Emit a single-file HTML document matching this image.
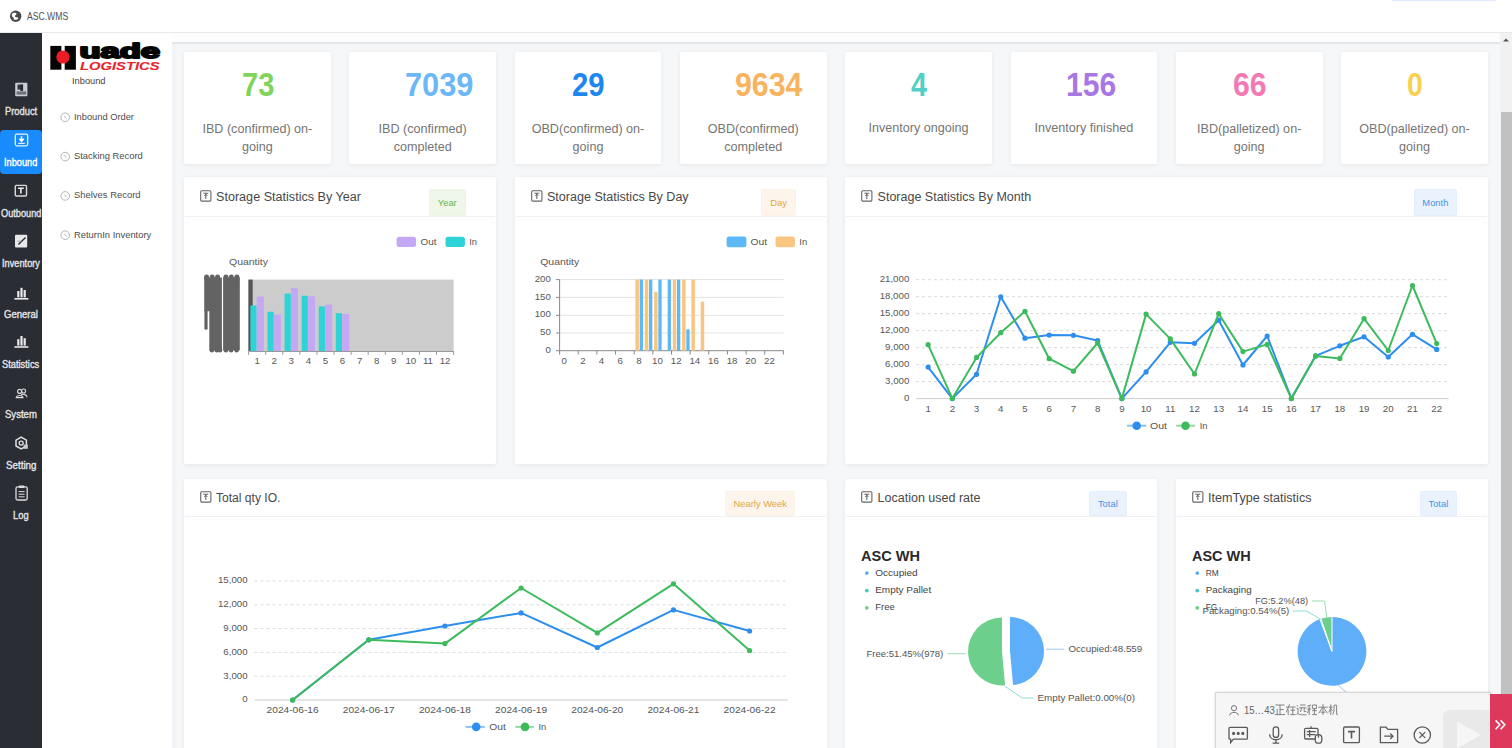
<!DOCTYPE html>
<html><head><meta charset="utf-8"><title>ASC.WMS</title>
<style>
*{box-sizing:border-box;margin:0;padding:0}
html,body{width:1512px;height:748px;overflow:hidden;background:#fff;font-family:"Liberation Sans",sans-serif}
.t{position:absolute;white-space:nowrap;line-height:1;transform-origin:0 50%}
.b{position:absolute}
svg{position:absolute;left:0;top:0;overflow:visible}
svg text{font-family:"Liberation Sans",sans-serif}
.card{position:absolute;background:#fff;border-radius:2px;box-shadow:0 1px 5px rgba(0,0,0,0.07)}
.tag{position:absolute;border:1px solid;border-radius:1.5px}
</style></head><body>

<div class="b" style="left:0;top:0;width:1512px;height:33px;background:#fff;border-bottom:1px solid #e9e9e9"></div>
<div class="b" style="left:1392px;top:0;width:104px;height:1px;background:#e2e8fb"></div>
<svg width="30" height="33" viewBox="0 0 30 33" style="left:0;top:0">
<circle cx="15.7" cy="16.3" r="5.7" fill="#4a4a4a"/>
<path d="M12.2 13.6 C13.6 12.2 16.2 12.4 16.6 13.8 C16.9 15 14.6 15.2 14.9 16.5 C15.2 17.6 17.6 17.1 18.6 17.9 C17.6 19.6 15.3 20.4 13.6 19.4 C14.6 18.3 13.6 17.3 12.4 16.9 C11.8 16.1 11.7 14.5 12.2 13.6Z" fill="#fff"/>
</svg>
<span class="t" style="left:26.80px;top:10.80px;font-size:10.6px;color:#505050;transform:scaleX(0.8131);">ASC.WMS</span>
<div class="b" style="left:0.00px;top:33.00px;width:42.40px;height:715.00px;background:#2b2d35;"></div>
<div class="b" style="left:0;top:130px;width:41.7px;height:43.7px;background:#188bff;border-radius:4px"></div>
<span class="t" style="left:4.90px;top:107.10px;font-size:10.4px;color:#e4e5e8;transform:scaleX(0.8987);-webkit-text-stroke:0.35px currentColor;">Product</span>
<span class="t" style="left:4.35px;top:158.10px;font-size:10.4px;color:#ffffff;transform:scaleX(0.8857);-webkit-text-stroke:0.35px currentColor;">Inbound</span>
<span class="t" style="left:0.80px;top:208.50px;font-size:10.4px;color:#e4e5e8;transform:scaleX(0.8839);-webkit-text-stroke:0.35px currentColor;">Outbound</span>
<span class="t" style="left:2.00px;top:259.30px;font-size:10.4px;color:#e4e5e8;transform:scaleX(0.8879);-webkit-text-stroke:0.35px currentColor;">Inventory</span>
<span class="t" style="left:4.00px;top:309.90px;font-size:10.4px;color:#e4e5e8;transform:scaleX(0.9183);-webkit-text-stroke:0.35px currentColor;">General</span>
<span class="t" style="left:2.40px;top:360.00px;font-size:10.4px;color:#e4e5e8;transform:scaleX(0.8942);-webkit-text-stroke:0.35px currentColor;">Statistics</span>
<span class="t" style="left:5.05px;top:410.00px;font-size:10.4px;color:#e4e5e8;transform:scaleX(0.9197);-webkit-text-stroke:0.35px currentColor;">System</span>
<span class="t" style="left:5.75px;top:460.50px;font-size:10.4px;color:#e4e5e8;transform:scaleX(0.9415);-webkit-text-stroke:0.35px currentColor;">Setting</span>
<span class="t" style="left:13.20px;top:510.90px;font-size:10.4px;color:#e4e5e8;transform:scaleX(0.8982);-webkit-text-stroke:0.35px currentColor;">Log</span>
<svg width="42" height="748" viewBox="0 0 42 748" style="left:0;top:0"><rect x="15.2" y="82.8" width="12.2" height="13.4" rx="1" fill="#c9ced3"/><rect x="17.5" y="84.6" width="3.2" height="5" fill="#2f3540"/><rect x="20.3" y="84.4" width="2.8" height="6.4" fill="#1f2530"/><rect x="16.6" y="91.4" width="9.6" height="3.2" fill="#6d7278"/><rect x="15.3" y="134.2" width="12.4" height="11.6" rx="1.5" fill="none" stroke="#e9f3ff" stroke-width="1.3"/><path d="M21.5 136.2 L21.5 140.6 M19.4 138.8 L21.5 141.2 L23.6 138.8" stroke="#fff" stroke-width="1.6" fill="none"/><rect x="18.2" y="142.8" width="6.6" height="1.2" fill="#e9f3ff"/><rect x="15.3" y="185.4" width="11.2" height="10.6" rx="1" fill="none" stroke="#d9d9dd" stroke-width="1.4"/><path d="M18 188.3 L23.8 188.3 M20.9 188.3 L20.9 193.6" stroke="#eee" stroke-width="1.6" fill="none"/><rect x="15" y="234.8" width="12.2" height="12.8" rx="1" fill="#e8e8ea"/><path d="M18.4 244.5 L25.5 237.5" stroke="#2c2c37" stroke-width="1.4"/><path d="M17.4 241.2 L21.6 241.2" stroke="#9a9aa0" stroke-width="0.9"/><rect x="17.2" y="291.0" width="2.2" height="6.4" fill="#e8e8ea"/><rect x="20.4" y="287.8" width="2.2" height="9.6" fill="#e8e8ea"/><rect x="23.6" y="290.0" width="2.2" height="7.4" fill="#e8e8ea"/><rect x="14.4" y="298.0" width="14" height="1.6" fill="#e8e8ea"/><rect x="17.2" y="339.2" width="2.2" height="6.4" fill="#e8e8ea"/><rect x="20.4" y="336.0" width="2.2" height="9.6" fill="#e8e8ea"/><rect x="23.6" y="338.2" width="2.2" height="7.4" fill="#e8e8ea"/><rect x="14.4" y="346.2" width="14" height="1.6" fill="#e8e8ea"/><circle cx="19.6" cy="391.4" r="2" fill="none" stroke="#dcdce0" stroke-width="1.1"/><circle cx="23.6" cy="391.0" r="2" fill="none" stroke="#dcdce0" stroke-width="1.1"/><path d="M16.2 397.6 C16.6 394.8 22.6 394.8 23 397.6 Z M21 394.6 C23.6 393.8 27 394.6 27 397.2" fill="none" stroke="#dcdce0" stroke-width="1.1"/><path d="M21.2 437.2 L26.4 440.2 L26.4 446.0 L21.2 449.0 L16 446.0 L16 440.2 Z" fill="none" stroke="#e0e0e4" stroke-width="1.5"/><circle cx="21.2" cy="443.1" r="2" fill="none" stroke="#e0e0e4" stroke-width="1.3"/><rect x="23.6" y="444.6" width="4.2" height="4.2" fill="#c9c9cf"/><rect x="16" y="486.8" width="11.2" height="13.2" rx="1.5" fill="none" stroke="#dcdce0" stroke-width="1.3"/><rect x="18.8" y="485.6" width="5.6" height="2.4" rx="0.6" fill="#dcdce0"/><path d="M18.6 491.6 H24.6 M18.6 494.2 H24.6 M18.6 496.8 H24.6" stroke="#dcdce0" stroke-width="1"/></svg>
<div class="b" style="left:42.00px;top:33.00px;width:130.00px;height:715.00px;background:#ffffff;"></div>
<svg width="172" height="80" viewBox="0 0 172 80" style="left:0;top:0"><rect x="50.3" y="45.9" width="11.1" height="23.8" fill="#050505"/><rect x="64.7" y="45.9" width="11.2" height="23.8" fill="#050505"/><circle cx="62.9" cy="57" r="6.6" fill="#ec1c24"/><text x="79.4" y="57.9" font-size="20" font-weight="bold" fill="#050505" textLength="80.6" lengthAdjust="spacingAndGlyphs" stroke="#050505" stroke-width="1.9" stroke-linejoin="round" font-family="Liberation Sans">uade</text><text x="80.0" y="69.6" font-size="11.6" font-weight="bold" font-style="italic" fill="#e5262d" stroke="#e5262d" stroke-width="0.1" textLength="79.6" lengthAdjust="spacingAndGlyphs" font-family="Liberation Sans">LOGISTICS</text></svg>
<span class="t" style="left:72.20px;top:75.50px;font-size:9.4px;color:#444;transform:scaleX(0.9888);">Inbound</span>
<svg width="172" height="260" viewBox="0 0 172 260" style="left:0;top:0"><circle cx="65.2" cy="117.3" r="4.3" fill="none" stroke="#b4b4b4" stroke-width="1"/><path d="M64 115.8 L66.4 118.6" stroke="#b4b4b4" stroke-width="0.9"/><circle cx="65.2" cy="156.60000000000002" r="4.3" fill="none" stroke="#b4b4b4" stroke-width="1"/><path d="M64 155.10000000000002 L66.4 157.9" stroke="#b4b4b4" stroke-width="0.9"/><circle cx="65.2" cy="195.9" r="4.3" fill="none" stroke="#b4b4b4" stroke-width="1"/><path d="M64 194.4 L66.4 197.2" stroke="#b4b4b4" stroke-width="0.9"/><circle cx="65.2" cy="235.20000000000002" r="4.3" fill="none" stroke="#b4b4b4" stroke-width="1"/><path d="M64 233.70000000000002 L66.4 236.5" stroke="#b4b4b4" stroke-width="0.9"/></svg>
<span class="t" style="left:74.40px;top:111.60px;font-size:9.6px;color:#4d4d4d;transform:scaleX(0.9690);">Inbound Order</span>
<span class="t" style="left:74.40px;top:150.90px;font-size:9.6px;color:#4d4d4d;transform:scaleX(0.9771);">Stacking Record</span>
<span class="t" style="left:74.40px;top:190.20px;font-size:9.6px;color:#4d4d4d;transform:scaleX(0.9826);">Shelves Record</span>
<span class="t" style="left:74.40px;top:229.50px;font-size:9.6px;color:#4d4d4d;transform:scaleX(0.9790);">ReturnIn Inventory</span>
<div class="b" style="left:172.00px;top:33.00px;width:1328.00px;height:715.00px;background:#f6f7f9;"></div>
<div class="b" style="left:172.00px;top:33.00px;width:1328.00px;height:8.50px;background:#fdfdfd;"></div>
<div class="b" style="left:172.00px;top:41.50px;width:1328.00px;height:2.50px;background:#e4e6e9;"></div>
<div class="b" style="left:172.00px;top:44.00px;width:4.00px;height:704.00px;background:#f3f4f7;"></div>
<div class="card" style="left:184.00px;top:52.2px;width:146.8px;height:111.5px"></div>
<span class="t" style="left:241.50px;top:67.50px;font-size:33px;color:#7fd55b;font-weight:bold;transform:scaleX(0.8818);">73</span>
<span class="t" style="left:202.43px;top:122.60px;font-size:12.6px;color:#757575;">IBD (confirmed) on-</span>
<span class="t" style="left:242.00px;top:141.30px;font-size:12.6px;color:#757575;">going</span>
<div class="card" style="left:349.30px;top:52.2px;width:146.8px;height:111.5px"></div>
<span class="t" style="left:404.70px;top:67.50px;font-size:33px;color:#6cb7f6;font-weight:bold;transform:scaleX(0.9329);">7039</span>
<span class="t" style="left:378.60px;top:122.60px;font-size:12.6px;color:#757575;">IBD (confirmed)</span>
<span class="t" style="left:393.63px;top:141.30px;font-size:12.6px;color:#757575;">completed</span>
<div class="card" style="left:514.60px;top:52.2px;width:146.8px;height:111.5px"></div>
<span class="t" style="left:572.00px;top:67.50px;font-size:33px;color:#1e86ef;font-weight:bold;transform:scaleX(0.8873);">29</span>
<span class="t" style="left:531.65px;top:122.60px;font-size:12.6px;color:#757575;">OBD(confirmed) on-</span>
<span class="t" style="left:572.60px;top:141.30px;font-size:12.6px;color:#757575;">going</span>
<div class="card" style="left:679.90px;top:52.2px;width:146.8px;height:111.5px"></div>
<span class="t" style="left:735.30px;top:67.50px;font-size:33px;color:#f8b35e;font-weight:bold;transform:scaleX(0.9193);">9634</span>
<span class="t" style="left:707.78px;top:122.60px;font-size:12.6px;color:#757575;">OBD(confirmed)</span>
<span class="t" style="left:724.23px;top:141.30px;font-size:12.6px;color:#757575;">completed</span>
<div class="card" style="left:845.20px;top:52.2px;width:146.8px;height:111.5px"></div>
<span class="t" style="left:911.20px;top:67.50px;font-size:33px;color:#50d0c6;font-weight:bold;transform:scaleX(0.8681);">4</span>
<span class="t" style="left:868.51px;top:121.70px;font-size:12.6px;color:#757575;">Inventory ongoing</span>
<div class="card" style="left:1010.50px;top:52.2px;width:146.8px;height:111.5px"></div>
<span class="t" style="left:1066.00px;top:67.50px;font-size:33px;color:#a977e3;font-weight:bold;transform:scaleX(0.9109);">156</span>
<span class="t" style="left:1034.51px;top:121.70px;font-size:12.6px;color:#757575;">Inventory finished</span>
<div class="card" style="left:1175.80px;top:52.2px;width:146.8px;height:111.5px"></div>
<span class="t" style="left:1232.70px;top:67.50px;font-size:33px;color:#f27ab4;font-weight:bold;transform:scaleX(0.9146);">66</span>
<span class="t" style="left:1197.04px;top:122.60px;font-size:12.6px;color:#757575;">IBD(palletized) on-</span>
<span class="t" style="left:1233.80px;top:141.30px;font-size:12.6px;color:#757575;">going</span>
<div class="card" style="left:1341.10px;top:52.2px;width:146.8px;height:111.5px"></div>
<span class="t" style="left:1406.50px;top:67.50px;font-size:33px;color:#f7d14f;font-weight:bold;transform:scaleX(0.8627);">0</span>
<span class="t" style="left:1359.19px;top:122.60px;font-size:12.6px;color:#757575;">OBD(palletized) on-</span>
<span class="t" style="left:1399.10px;top:141.30px;font-size:12.6px;color:#757575;">going</span>
<div class="card" style="left:184.00px;top:177.00px;width:312.10px;height:287.40px"></div>
<div class="b" style="left:185.00px;top:215.80px;width:310.10px;height:1px;background:#eef0f3"></div>
<svg width="14" height="14" viewBox="0 0 14 14" style="left:200.20px;top:190.20px"><rect x="0.7" y="0.7" width="10.2" height="10.4" rx="1" fill="none" stroke="#666" stroke-width="1.1"/><path d="M3.3 3.3 H8.3 M5.8 3.3 V9" stroke="#666" stroke-width="1.1" fill="none"/><path d="M4.2 6 L5.8 4.2 L7.4 6" stroke="#666" stroke-width="0.9" fill="none"/></svg>
<span class="t" style="left:216.40px;top:190.75px;font-size:12.5px;color:#484848;transform:scaleX(1.0083);">Storage Statistics By Year</span>
<div class="tag" style="left:429.00px;top:189.00px;width:36.60px;height:26.60px;background:#eef7ea;border-color:#eaf5e5"></div>
<span class="t" style="left:437.81px;top:197.90px;font-size:9.4px;color:#66b650;">Year</span>
<div class="card" style="left:514.60px;top:177.00px;width:312.10px;height:287.40px"></div>
<div class="b" style="left:515.60px;top:215.80px;width:310.10px;height:1px;background:#eef0f3"></div>
<svg width="14" height="14" viewBox="0 0 14 14" style="left:530.80px;top:190.20px"><rect x="0.7" y="0.7" width="10.2" height="10.4" rx="1" fill="none" stroke="#666" stroke-width="1.1"/><path d="M3.3 3.3 H8.3 M5.8 3.3 V9" stroke="#666" stroke-width="1.1" fill="none"/><path d="M4.2 6 L5.8 4.2 L7.4 6" stroke="#666" stroke-width="0.9" fill="none"/></svg>
<span class="t" style="left:547.00px;top:190.75px;font-size:12.5px;color:#484848;transform:scaleX(1.0043);">Storage Statistics By Day</span>
<div class="tag" style="left:761.40px;top:189.00px;width:34.50px;height:26.60px;background:#fdf5ec;border-color:#fcf1e4"></div>
<span class="t" style="left:770.28px;top:197.90px;font-size:9.4px;color:#dca748;">Day</span>
<div class="card" style="left:845.20px;top:177.00px;width:642.70px;height:287.40px"></div>
<div class="b" style="left:846.20px;top:215.80px;width:640.70px;height:1px;background:#eef0f3"></div>
<svg width="14" height="14" viewBox="0 0 14 14" style="left:861.40px;top:190.20px"><rect x="0.7" y="0.7" width="10.2" height="10.4" rx="1" fill="none" stroke="#666" stroke-width="1.1"/><path d="M3.3 3.3 H8.3 M5.8 3.3 V9" stroke="#666" stroke-width="1.1" fill="none"/><path d="M4.2 6 L5.8 4.2 L7.4 6" stroke="#666" stroke-width="0.9" fill="none"/></svg>
<span class="t" style="left:877.60px;top:190.75px;font-size:12.5px;color:#484848;">Storage Statistics By Month</span>
<div class="tag" style="left:1413.80px;top:189.00px;width:43.20px;height:26.60px;background:#eaf3fd;border-color:#e4eefc"></div>
<span class="t" style="left:1422.33px;top:197.90px;font-size:9.4px;color:#4593e8;">Month</span>
<div class="card" style="left:184.00px;top:479.10px;width:642.70px;height:280.90px"></div>
<div class="b" style="left:185.00px;top:516.20px;width:640.70px;height:1px;background:#eef0f3"></div>
<svg width="14" height="14" viewBox="0 0 14 14" style="left:200.20px;top:491.10px"><rect x="0.7" y="0.7" width="10.2" height="10.4" rx="1" fill="none" stroke="#666" stroke-width="1.1"/><path d="M3.3 3.3 H8.3 M5.8 3.3 V9" stroke="#666" stroke-width="1.1" fill="none"/><path d="M4.2 6 L5.8 4.2 L7.4 6" stroke="#666" stroke-width="0.9" fill="none"/></svg>
<span class="t" style="left:216.40px;top:491.65px;font-size:12.5px;color:#484848;transform:scaleX(0.9657);">Total qty IO.</span>
<div class="tag" style="left:725.20px;top:490.60px;width:70.30px;height:25.60px;background:#fdf5ec;border-color:#fcf1e4"></div>
<span class="t" style="left:733.51px;top:499.00px;font-size:9.4px;color:#dca748;">Nearly Week</span>
<div class="card" style="left:845.20px;top:479.10px;width:312.10px;height:280.90px"></div>
<div class="b" style="left:846.20px;top:516.20px;width:310.10px;height:1px;background:#eef0f3"></div>
<svg width="14" height="14" viewBox="0 0 14 14" style="left:861.40px;top:491.10px"><rect x="0.7" y="0.7" width="10.2" height="10.4" rx="1" fill="none" stroke="#666" stroke-width="1.1"/><path d="M3.3 3.3 H8.3 M5.8 3.3 V9" stroke="#666" stroke-width="1.1" fill="none"/><path d="M4.2 6 L5.8 4.2 L7.4 6" stroke="#666" stroke-width="0.9" fill="none"/></svg>
<span class="t" style="left:877.60px;top:491.65px;font-size:12.5px;color:#484848;">Location used rate</span>
<div class="tag" style="left:1088.90px;top:490.60px;width:37.90px;height:25.60px;background:#eaf3fd;border-color:#e4eefc"></div>
<span class="t" style="left:1097.93px;top:499.00px;font-size:9.4px;color:#4593e8;">Total</span>
<div class="card" style="left:1175.80px;top:479.10px;width:312.10px;height:280.90px"></div>
<div class="b" style="left:1176.80px;top:516.20px;width:310.10px;height:1px;background:#eef0f3"></div>
<svg width="14" height="14" viewBox="0 0 14 14" style="left:1192.00px;top:491.10px"><rect x="0.7" y="0.7" width="10.2" height="10.4" rx="1" fill="none" stroke="#666" stroke-width="1.1"/><path d="M3.3 3.3 H8.3 M5.8 3.3 V9" stroke="#666" stroke-width="1.1" fill="none"/><path d="M4.2 6 L5.8 4.2 L7.4 6" stroke="#666" stroke-width="0.9" fill="none"/></svg>
<span class="t" style="left:1208.20px;top:491.65px;font-size:12.5px;color:#484848;transform:scaleX(1.0067);">ItemType statistics</span>
<div class="tag" style="left:1420.00px;top:490.60px;width:36.80px;height:25.60px;background:#eaf3fd;border-color:#e4eefc"></div>
<span class="t" style="left:1428.48px;top:499.00px;font-size:9.4px;color:#4593e8;">Total</span>
<svg width="1512" height="748" viewBox="0 0 1512 748" style="left:0;top:0"><rect x="396.6" y="236.8" width="19.4" height="10.2" rx="2.5" fill="#c4a8f3"/><text x="420.50" y="245.35" font-size="9.7" fill="#555" text-anchor="start" textLength="16.00" lengthAdjust="spacingAndGlyphs">Out</text><rect x="445.5" y="236.8" width="19.4" height="10.2" rx="2.5" fill="#2ed3d6"/><text x="469.20" y="245.35" font-size="9.7" fill="#555" text-anchor="start" textLength="7.80" lengthAdjust="spacingAndGlyphs">In</text><text x="229.00" y="265.35" font-size="9.7" fill="#585858" text-anchor="start" textLength="39.00" lengthAdjust="spacingAndGlyphs">Quantity</text><rect x="248.6" y="279.6" width="205" height="71.4" fill="#cccccc"/><rect x="248.4" y="279.6" width="4.3" height="71.4" fill="#555"/><g fill="#636363"><rect x="204.2" y="277.6" width="17.7" height="33.6"/><rect x="204.4" y="310" width="3.2" height="19.8" rx="1.4"/><rect x="209.3" y="310" width="12.6" height="40.2"/><rect x="223.1" y="277.6" width="16.7" height="72.6"/><ellipse cx="206.6" cy="277.6" rx="2.55" ry="3.2"/><ellipse cx="212.2" cy="277.6" rx="2.55" ry="3.2"/><ellipse cx="217.6" cy="277.6" rx="2.55" ry="3.2"/><ellipse cx="225.9" cy="277.6" rx="2.55" ry="3.2"/><ellipse cx="231.3" cy="277.6" rx="2.55" ry="3.2"/><ellipse cx="236.9" cy="277.6" rx="2.55" ry="3.2"/><ellipse cx="211.9" cy="350.2" rx="2.3" ry="2.2"/><ellipse cx="216.8" cy="350.2" rx="2.3" ry="2.2"/><ellipse cx="220.0" cy="350.2" rx="2.3" ry="2.2"/><ellipse cx="225.9" cy="350.2" rx="2.3" ry="2.2"/><ellipse cx="231.1" cy="350.2" rx="2.3" ry="2.2"/><ellipse cx="236.6" cy="350.2" rx="2.3" ry="2.2"/></g><rect x="249.4" y="351" width="204.2" height="1" fill="#999"/><rect x="248.10" y="351" width="1" height="3.8" fill="#999"/><rect x="265.18" y="351" width="1" height="3.8" fill="#999"/><rect x="282.27" y="351" width="1" height="3.8" fill="#999"/><rect x="299.35" y="351" width="1" height="3.8" fill="#999"/><rect x="316.43" y="351" width="1" height="3.8" fill="#999"/><rect x="333.52" y="351" width="1" height="3.8" fill="#999"/><rect x="350.60" y="351" width="1" height="3.8" fill="#999"/><rect x="367.68" y="351" width="1" height="3.8" fill="#999"/><rect x="384.77" y="351" width="1" height="3.8" fill="#999"/><rect x="401.85" y="351" width="1" height="3.8" fill="#999"/><rect x="418.93" y="351" width="1" height="3.8" fill="#999"/><rect x="436.02" y="351" width="1" height="3.8" fill="#999"/><rect x="453.10" y="351" width="1" height="3.8" fill="#999"/><text x="257.14" y="364.35" font-size="9.7" fill="#585858" text-anchor="middle">1</text><text x="274.23" y="364.35" font-size="9.7" fill="#585858" text-anchor="middle">2</text><text x="291.31" y="364.35" font-size="9.7" fill="#585858" text-anchor="middle">3</text><text x="308.39" y="364.35" font-size="9.7" fill="#585858" text-anchor="middle">4</text><text x="325.48" y="364.35" font-size="9.7" fill="#585858" text-anchor="middle">5</text><text x="342.56" y="364.35" font-size="9.7" fill="#585858" text-anchor="middle">6</text><text x="359.64" y="364.35" font-size="9.7" fill="#585858" text-anchor="middle">7</text><text x="376.73" y="364.35" font-size="9.7" fill="#585858" text-anchor="middle">8</text><text x="393.81" y="364.35" font-size="9.7" fill="#585858" text-anchor="middle">9</text><text x="410.89" y="364.35" font-size="9.7" fill="#585858" text-anchor="middle">10</text><text x="427.98" y="364.35" font-size="9.7" fill="#585858" text-anchor="middle">11</text><text x="445.06" y="364.35" font-size="9.7" fill="#585858" text-anchor="middle">12</text><rect x="250.40" y="305.5" width="6.2" height="45.50" fill="#2ed3d6"/><rect x="256.80" y="296.6" width="7.0" height="54.40" fill="#c4a8f3"/><rect x="267.48" y="311.8" width="6.2" height="39.20" fill="#2ed3d6"/><rect x="273.88" y="314.5" width="7.0" height="36.50" fill="#c4a8f3"/><rect x="284.57" y="293.6" width="6.2" height="57.40" fill="#2ed3d6"/><rect x="290.97" y="288.2" width="7.0" height="62.80" fill="#c4a8f3"/><rect x="301.65" y="295.7" width="6.2" height="55.30" fill="#2ed3d6"/><rect x="308.05" y="296.3" width="7.0" height="54.70" fill="#c4a8f3"/><rect x="318.73" y="306.4" width="6.2" height="44.60" fill="#2ed3d6"/><rect x="325.13" y="304.6" width="7.0" height="46.40" fill="#c4a8f3"/><rect x="335.82" y="313.2" width="6.2" height="37.80" fill="#2ed3d6"/><rect x="342.22" y="314.0" width="7.0" height="37.00" fill="#c4a8f3"/><rect x="726.6" y="236.4" width="19.8" height="10.8" rx="2.5" fill="#5cb8f7"/><text x="750.50" y="245.35" font-size="9.7" fill="#555" text-anchor="start" textLength="16.50" lengthAdjust="spacingAndGlyphs">Out</text><rect x="775.5" y="236.4" width="19.4" height="10.8" rx="2.5" fill="#f9c682"/><text x="799.30" y="245.35" font-size="9.7" fill="#555" text-anchor="start" textLength="7.80" lengthAdjust="spacingAndGlyphs">In</text><text x="540.20" y="265.35" font-size="9.7" fill="#585858" text-anchor="start" textLength="39.00" lengthAdjust="spacingAndGlyphs">Quantity</text><rect x="559.6" y="279.1" width="224" height="1" fill="#e3e3e3"/><rect x="556" y="279.1" width="3.6" height="1" fill="#888"/><text x="550.80" y="281.75" font-size="9.7" fill="#585858" text-anchor="end">200</text><rect x="559.6" y="296.9" width="224" height="1" fill="#e3e3e3"/><rect x="556" y="296.9" width="3.6" height="1" fill="#888"/><text x="550.80" y="299.55" font-size="9.7" fill="#585858" text-anchor="end">150</text><rect x="559.6" y="314.8" width="224" height="1" fill="#e3e3e3"/><rect x="556" y="314.8" width="3.6" height="1" fill="#888"/><text x="550.80" y="317.45" font-size="9.7" fill="#585858" text-anchor="end">100</text><rect x="559.6" y="332.5" width="224" height="1" fill="#e3e3e3"/><rect x="556" y="332.5" width="3.6" height="1" fill="#888"/><text x="550.80" y="335.15" font-size="9.7" fill="#585858" text-anchor="end">50</text><text x="550.80" y="352.85" font-size="9.7" fill="#585858" text-anchor="end">0</text><rect x="559.1" y="279.6" width="1" height="71.4" fill="#888"/><rect x="556" y="350.2" width="227.6" height="1" fill="#888"/><rect x="559.10" y="350.7" width="1" height="3.8" fill="#888"/><rect x="577.75" y="350.7" width="1" height="3.8" fill="#888"/><rect x="596.40" y="350.7" width="1" height="3.8" fill="#888"/><rect x="615.05" y="350.7" width="1" height="3.8" fill="#888"/><rect x="633.70" y="350.7" width="1" height="3.8" fill="#888"/><rect x="652.35" y="350.7" width="1" height="3.8" fill="#888"/><rect x="671.00" y="350.7" width="1" height="3.8" fill="#888"/><rect x="689.65" y="350.7" width="1" height="3.8" fill="#888"/><rect x="708.30" y="350.7" width="1" height="3.8" fill="#888"/><rect x="726.95" y="350.7" width="1" height="3.8" fill="#888"/><rect x="745.60" y="350.7" width="1" height="3.8" fill="#888"/><rect x="764.25" y="350.7" width="1" height="3.8" fill="#888"/><rect x="782.90" y="350.7" width="1" height="3.8" fill="#888"/><text x="564.26" y="363.85" font-size="9.7" fill="#585858" text-anchor="middle">0</text><text x="582.91" y="363.85" font-size="9.7" fill="#585858" text-anchor="middle">2</text><text x="601.56" y="363.85" font-size="9.7" fill="#585858" text-anchor="middle">4</text><text x="620.21" y="363.85" font-size="9.7" fill="#585858" text-anchor="middle">6</text><text x="638.86" y="363.85" font-size="9.7" fill="#585858" text-anchor="middle">8</text><text x="657.51" y="363.85" font-size="9.7" fill="#585858" text-anchor="middle">10</text><text x="676.16" y="363.85" font-size="9.7" fill="#585858" text-anchor="middle">12</text><text x="694.81" y="363.85" font-size="9.7" fill="#585858" text-anchor="middle">14</text><text x="713.46" y="363.85" font-size="9.7" fill="#585858" text-anchor="middle">16</text><text x="732.11" y="363.85" font-size="9.7" fill="#585858" text-anchor="middle">18</text><text x="750.76" y="363.85" font-size="9.7" fill="#585858" text-anchor="middle">20</text><text x="769.41" y="363.85" font-size="9.7" fill="#585858" text-anchor="middle">22</text><rect x="635.45" y="279.6" width="3.5" height="71.10" fill="#f9c682"/><rect x="639.70" y="279.6" width="3.3" height="71.10" fill="#5cb8f7"/><rect x="644.77" y="279.6" width="3.5" height="71.10" fill="#f9c682"/><rect x="649.02" y="279.6" width="3.3" height="71.10" fill="#5cb8f7"/><rect x="654.10" y="291.8" width="3.5" height="58.90" fill="#f9c682"/><rect x="658.35" y="279.6" width="3.3" height="71.10" fill="#5cb8f7"/><rect x="667.67" y="279.6" width="3.3" height="71.10" fill="#5cb8f7"/><rect x="672.75" y="279.6" width="3.5" height="71.10" fill="#f9c682"/><rect x="677.00" y="279.6" width="3.3" height="71.10" fill="#5cb8f7"/><rect x="682.08" y="279.6" width="3.5" height="71.10" fill="#f9c682"/><rect x="686.33" y="329.3" width="3.3" height="21.40" fill="#5cb8f7"/><rect x="691.40" y="279.6" width="3.5" height="71.10" fill="#f9c682"/><rect x="700.73" y="301.6" width="3.5" height="49.10" fill="#f9c682"/><line x1="916.0" y1="381.62" x2="1448.8" y2="381.62" stroke="#dadada" stroke-width="1" stroke-dasharray="3 3"/><line x1="916.0" y1="364.63" x2="1448.8" y2="364.63" stroke="#dadada" stroke-width="1" stroke-dasharray="3 3"/><line x1="916.0" y1="347.65" x2="1448.8" y2="347.65" stroke="#dadada" stroke-width="1" stroke-dasharray="3 3"/><line x1="916.0" y1="330.66" x2="1448.8" y2="330.66" stroke="#dadada" stroke-width="1" stroke-dasharray="3 3"/><line x1="916.0" y1="313.68" x2="1448.8" y2="313.68" stroke="#dadada" stroke-width="1" stroke-dasharray="3 3"/><line x1="916.0" y1="296.69" x2="1448.8" y2="296.69" stroke="#dadada" stroke-width="1" stroke-dasharray="3 3"/><line x1="916.0" y1="279.71" x2="1448.8" y2="279.71" stroke="#dadada" stroke-width="1" stroke-dasharray="3 3"/><text x="909.30" y="401.05" font-size="9.7" fill="#585858" text-anchor="end">0</text><text x="909.30" y="384.06" font-size="9.7" fill="#585858" text-anchor="end">3,000</text><text x="909.30" y="367.08" font-size="9.7" fill="#585858" text-anchor="end">6,000</text><text x="909.30" y="350.09" font-size="9.7" fill="#585858" text-anchor="end">9,000</text><text x="909.30" y="333.11" font-size="9.7" fill="#585858" text-anchor="end">12,000</text><text x="909.30" y="316.12" font-size="9.7" fill="#585858" text-anchor="end">15,000</text><text x="909.30" y="299.14" font-size="9.7" fill="#585858" text-anchor="end">18,000</text><text x="909.30" y="282.15" font-size="9.7" fill="#585858" text-anchor="end">21,000</text><rect x="916.0" y="398.1" width="532.8" height="1" fill="#ccc"/><text x="928.11" y="411.95" font-size="9.7" fill="#585858" text-anchor="middle">1</text><text x="952.33" y="411.95" font-size="9.7" fill="#585858" text-anchor="middle">2</text><text x="976.55" y="411.95" font-size="9.7" fill="#585858" text-anchor="middle">3</text><text x="1000.76" y="411.95" font-size="9.7" fill="#585858" text-anchor="middle">4</text><text x="1024.98" y="411.95" font-size="9.7" fill="#585858" text-anchor="middle">5</text><text x="1049.20" y="411.95" font-size="9.7" fill="#585858" text-anchor="middle">6</text><text x="1073.42" y="411.95" font-size="9.7" fill="#585858" text-anchor="middle">7</text><text x="1097.64" y="411.95" font-size="9.7" fill="#585858" text-anchor="middle">8</text><text x="1121.85" y="411.95" font-size="9.7" fill="#585858" text-anchor="middle">9</text><text x="1146.07" y="411.95" font-size="9.7" fill="#585858" text-anchor="middle">10</text><text x="1170.29" y="411.95" font-size="9.7" fill="#585858" text-anchor="middle">11</text><text x="1194.51" y="411.95" font-size="9.7" fill="#585858" text-anchor="middle">12</text><text x="1218.73" y="411.95" font-size="9.7" fill="#585858" text-anchor="middle">13</text><text x="1242.95" y="411.95" font-size="9.7" fill="#585858" text-anchor="middle">14</text><text x="1267.16" y="411.95" font-size="9.7" fill="#585858" text-anchor="middle">15</text><text x="1291.38" y="411.95" font-size="9.7" fill="#585858" text-anchor="middle">16</text><text x="1315.60" y="411.95" font-size="9.7" fill="#585858" text-anchor="middle">17</text><text x="1339.82" y="411.95" font-size="9.7" fill="#585858" text-anchor="middle">18</text><text x="1364.04" y="411.95" font-size="9.7" fill="#585858" text-anchor="middle">19</text><text x="1388.25" y="411.95" font-size="9.7" fill="#585858" text-anchor="middle">20</text><text x="1412.47" y="411.95" font-size="9.7" fill="#585858" text-anchor="middle">21</text><text x="1436.69" y="411.95" font-size="9.7" fill="#585858" text-anchor="middle">22</text><polyline points="928.11,367.10 952.33,398.60 976.55,374.30 1000.76,296.80 1024.98,338.20 1049.20,335.10 1073.42,335.30 1097.64,340.60 1121.85,398.60 1146.07,371.90 1170.29,342.30 1194.51,343.30 1218.73,320.20 1242.95,365.00 1267.16,336.00 1291.38,398.60 1315.60,355.90 1339.82,345.80 1364.04,336.80 1388.25,357.00 1412.47,334.30 1436.69,349.40" fill="none" stroke="#2e8ef0" stroke-width="2" stroke-linejoin="round"/><circle cx="928.11" cy="367.10" r="2.6" fill="#2e8ef0"/><circle cx="952.33" cy="398.60" r="2.6" fill="#2e8ef0"/><circle cx="976.55" cy="374.30" r="2.6" fill="#2e8ef0"/><circle cx="1000.76" cy="296.80" r="2.6" fill="#2e8ef0"/><circle cx="1024.98" cy="338.20" r="2.6" fill="#2e8ef0"/><circle cx="1049.20" cy="335.10" r="2.6" fill="#2e8ef0"/><circle cx="1073.42" cy="335.30" r="2.6" fill="#2e8ef0"/><circle cx="1097.64" cy="340.60" r="2.6" fill="#2e8ef0"/><circle cx="1121.85" cy="398.60" r="2.6" fill="#2e8ef0"/><circle cx="1146.07" cy="371.90" r="2.6" fill="#2e8ef0"/><circle cx="1170.29" cy="342.30" r="2.6" fill="#2e8ef0"/><circle cx="1194.51" cy="343.30" r="2.6" fill="#2e8ef0"/><circle cx="1218.73" cy="320.20" r="2.6" fill="#2e8ef0"/><circle cx="1242.95" cy="365.00" r="2.6" fill="#2e8ef0"/><circle cx="1267.16" cy="336.00" r="2.6" fill="#2e8ef0"/><circle cx="1291.38" cy="398.60" r="2.6" fill="#2e8ef0"/><circle cx="1315.60" cy="355.90" r="2.6" fill="#2e8ef0"/><circle cx="1339.82" cy="345.80" r="2.6" fill="#2e8ef0"/><circle cx="1364.04" cy="336.80" r="2.6" fill="#2e8ef0"/><circle cx="1388.25" cy="357.00" r="2.6" fill="#2e8ef0"/><circle cx="1412.47" cy="334.30" r="2.6" fill="#2e8ef0"/><circle cx="1436.69" cy="349.40" r="2.6" fill="#2e8ef0"/><polyline points="928.11,344.70 952.33,398.60 976.55,357.40 1000.76,332.70 1024.98,311.30 1049.20,358.70 1073.42,371.20 1097.64,343.00 1121.85,398.60 1146.07,314.10 1170.29,338.90 1194.51,374.00 1218.73,313.70 1242.95,351.60 1267.16,344.40 1291.38,398.60 1315.60,355.90 1339.82,358.40 1364.04,318.70 1388.25,350.50 1412.47,285.50 1436.69,343.60" fill="none" stroke="#3dbb5c" stroke-width="2" stroke-linejoin="round"/><circle cx="928.11" cy="344.70" r="2.6" fill="#3dbb5c"/><circle cx="952.33" cy="398.60" r="2.6" fill="#3dbb5c"/><circle cx="976.55" cy="357.40" r="2.6" fill="#3dbb5c"/><circle cx="1000.76" cy="332.70" r="2.6" fill="#3dbb5c"/><circle cx="1024.98" cy="311.30" r="2.6" fill="#3dbb5c"/><circle cx="1049.20" cy="358.70" r="2.6" fill="#3dbb5c"/><circle cx="1073.42" cy="371.20" r="2.6" fill="#3dbb5c"/><circle cx="1097.64" cy="343.00" r="2.6" fill="#3dbb5c"/><circle cx="1121.85" cy="398.60" r="2.6" fill="#3dbb5c"/><circle cx="1146.07" cy="314.10" r="2.6" fill="#3dbb5c"/><circle cx="1170.29" cy="338.90" r="2.6" fill="#3dbb5c"/><circle cx="1194.51" cy="374.00" r="2.6" fill="#3dbb5c"/><circle cx="1218.73" cy="313.70" r="2.6" fill="#3dbb5c"/><circle cx="1242.95" cy="351.60" r="2.6" fill="#3dbb5c"/><circle cx="1267.16" cy="344.40" r="2.6" fill="#3dbb5c"/><circle cx="1291.38" cy="398.60" r="2.6" fill="#3dbb5c"/><circle cx="1315.60" cy="355.90" r="2.6" fill="#3dbb5c"/><circle cx="1339.82" cy="358.40" r="2.6" fill="#3dbb5c"/><circle cx="1364.04" cy="318.70" r="2.6" fill="#3dbb5c"/><circle cx="1388.25" cy="350.50" r="2.6" fill="#3dbb5c"/><circle cx="1412.47" cy="285.50" r="2.6" fill="#3dbb5c"/><circle cx="1436.69" cy="343.60" r="2.6" fill="#3dbb5c"/><line x1="1127" y1="425.7" x2="1146.3" y2="425.7" stroke="#2e8ef0" stroke-width="2" opacity="0.55"/><circle cx="1136.7" cy="425.7" r="4.3" fill="#2e8ef0"/><text x="1150.00" y="429.05" font-size="9.7" fill="#555" text-anchor="start" textLength="17.00" lengthAdjust="spacingAndGlyphs">Out</text><line x1="1176.2" y1="425.7" x2="1195" y2="425.7" stroke="#3dbb5c" stroke-width="2" opacity="0.55"/><circle cx="1185.5" cy="425.7" r="4.3" fill="#3dbb5c"/><text x="1199.70" y="429.05" font-size="9.7" fill="#555" text-anchor="start" textLength="7.80" lengthAdjust="spacingAndGlyphs">In</text><line x1="254.5" y1="676.2" x2="787.7" y2="676.2" stroke="#dadada" stroke-width="1" stroke-dasharray="3 3"/><line x1="254.5" y1="652.4" x2="787.7" y2="652.4" stroke="#dadada" stroke-width="1" stroke-dasharray="3 3"/><line x1="254.5" y1="628.6" x2="787.7" y2="628.6" stroke="#dadada" stroke-width="1" stroke-dasharray="3 3"/><line x1="254.5" y1="604.8" x2="787.7" y2="604.8" stroke="#dadada" stroke-width="1" stroke-dasharray="3 3"/><line x1="254.5" y1="581.0" x2="787.7" y2="581.0" stroke="#dadada" stroke-width="1" stroke-dasharray="3 3"/><text x="247.60" y="702.45" font-size="9.7" fill="#585858" text-anchor="end">0</text><text x="247.60" y="678.65" font-size="9.7" fill="#585858" text-anchor="end">3,000</text><text x="247.60" y="654.85" font-size="9.7" fill="#585858" text-anchor="end">6,000</text><text x="247.60" y="631.05" font-size="9.7" fill="#585858" text-anchor="end">9,000</text><text x="247.60" y="607.25" font-size="9.7" fill="#585858" text-anchor="end">12,000</text><text x="247.60" y="583.45" font-size="9.7" fill="#585858" text-anchor="end">15,000</text><rect x="254.5" y="699.5" width="533.2" height="1" fill="#ccc"/><text x="292.59" y="712.95" font-size="9.7" fill="#555" text-anchor="middle" textLength="52.00" lengthAdjust="spacingAndGlyphs">2024-06-16</text><text x="368.76" y="712.95" font-size="9.7" fill="#555" text-anchor="middle" textLength="52.00" lengthAdjust="spacingAndGlyphs">2024-06-17</text><text x="444.93" y="712.95" font-size="9.7" fill="#555" text-anchor="middle" textLength="52.00" lengthAdjust="spacingAndGlyphs">2024-06-18</text><text x="521.10" y="712.95" font-size="9.7" fill="#555" text-anchor="middle" textLength="52.00" lengthAdjust="spacingAndGlyphs">2024-06-19</text><text x="597.27" y="712.95" font-size="9.7" fill="#555" text-anchor="middle" textLength="52.00" lengthAdjust="spacingAndGlyphs">2024-06-20</text><text x="673.44" y="712.95" font-size="9.7" fill="#555" text-anchor="middle" textLength="52.00" lengthAdjust="spacingAndGlyphs">2024-06-21</text><text x="749.61" y="712.95" font-size="9.7" fill="#555" text-anchor="middle" textLength="52.00" lengthAdjust="spacingAndGlyphs">2024-06-22</text><polyline points="292.59,700.00 368.76,639.80 444.93,626.00 521.10,612.90 597.27,647.50 673.44,609.90 749.61,631.00" fill="none" stroke="#2e8ef0" stroke-width="2" stroke-linejoin="round"/><circle cx="292.59" cy="700.00" r="2.6" fill="#2e8ef0"/><circle cx="368.76" cy="639.80" r="2.6" fill="#2e8ef0"/><circle cx="444.93" cy="626.00" r="2.6" fill="#2e8ef0"/><circle cx="521.10" cy="612.90" r="2.6" fill="#2e8ef0"/><circle cx="597.27" cy="647.50" r="2.6" fill="#2e8ef0"/><circle cx="673.44" cy="609.90" r="2.6" fill="#2e8ef0"/><circle cx="749.61" cy="631.00" r="2.6" fill="#2e8ef0"/><polyline points="292.59,700.00 368.76,639.80 444.93,643.60 521.10,588.00 597.27,632.90 673.44,583.80 749.61,650.50" fill="none" stroke="#3dbb5c" stroke-width="2" stroke-linejoin="round"/><circle cx="292.59" cy="700.00" r="2.6" fill="#3dbb5c"/><circle cx="368.76" cy="639.80" r="2.6" fill="#3dbb5c"/><circle cx="444.93" cy="643.60" r="2.6" fill="#3dbb5c"/><circle cx="521.10" cy="588.00" r="2.6" fill="#3dbb5c"/><circle cx="597.27" cy="632.90" r="2.6" fill="#3dbb5c"/><circle cx="673.44" cy="583.80" r="2.6" fill="#3dbb5c"/><circle cx="749.61" cy="650.50" r="2.6" fill="#3dbb5c"/><line x1="465.5" y1="726.9" x2="484.7" y2="726.9" stroke="#2e8ef0" stroke-width="2" opacity="0.55"/><circle cx="476.2" cy="726.9" r="4.3" fill="#2e8ef0"/><text x="489.30" y="730.25" font-size="9.7" fill="#555" text-anchor="start" textLength="16.50" lengthAdjust="spacingAndGlyphs">Out</text><line x1="515.4" y1="726.9" x2="533.8" y2="726.9" stroke="#3dbb5c" stroke-width="2" opacity="0.55"/><circle cx="525.0" cy="726.9" r="4.3" fill="#3dbb5c"/><text x="538.40" y="730.25" font-size="9.7" fill="#555" text-anchor="start" textLength="7.80" lengthAdjust="spacingAndGlyphs">In</text><text x="861.10" y="561.07" font-size="15" fill="#2a2a2a" text-anchor="start" font-weight="bold" textLength="59.00" lengthAdjust="spacingAndGlyphs">ASC WH</text><circle cx="866.8" cy="573.0999999999999" r="1.9" fill="#5eaefa"/><text x="875.20" y="575.65" font-size="9.7" fill="#444" text-anchor="start" textLength="42.50" lengthAdjust="spacingAndGlyphs">Occupied</text><circle cx="866.8" cy="590.5999999999999" r="1.9" fill="#45c9c6"/><text x="875.20" y="593.15" font-size="9.7" fill="#444" text-anchor="start" textLength="56.00" lengthAdjust="spacingAndGlyphs">Empty Pallet</text><circle cx="866.8" cy="607.8" r="1.9" fill="#6ccf8b"/><text x="875.20" y="610.35" font-size="9.7" fill="#444" text-anchor="start" textLength="19.50" lengthAdjust="spacingAndGlyphs">Free</text><path d="M1010.00,651.10 L1010.00,617.10 A34.0,34.0 0 0 1 1013.08,684.96 Z" fill="#5eaefa"/><path d="M1002.00,651.50 L1005.08,685.36 A34.0,34.0 0 1 1 1002.00,617.50 Z" fill="#6ccf8b"/><line x1="947.4" y1="653.7" x2="965.8" y2="653.7" stroke="#9ddcb0" stroke-width="1"/><line x1="1045.8" y1="649.2" x2="1064.3" y2="649.2" stroke="#9fcdf6" stroke-width="1"/><polyline points="1004.8,686.1 1022.2,698 1033.5,698" fill="none" stroke="#8fdcd8" stroke-width="1"/><text x="866.40" y="656.65" font-size="9.7" fill="#555" text-anchor="start" textLength="76.90" lengthAdjust="spacingAndGlyphs">Free:51.45%(978)</text><text x="1068.40" y="651.95" font-size="9.7" fill="#555" text-anchor="start" textLength="73.80" lengthAdjust="spacingAndGlyphs">Occupied:48.559</text><text x="1037.60" y="700.75" font-size="9.7" fill="#555" text-anchor="start" textLength="97.40" lengthAdjust="spacingAndGlyphs">Empty Pallet:0.00%(0)</text><text x="1192.00" y="561.17" font-size="15" fill="#2a2a2a" text-anchor="start" font-weight="bold" textLength="58.70" lengthAdjust="spacingAndGlyphs">ASC WH</text><circle cx="1197.3" cy="573.0999999999999" r="1.9" fill="#5eaefa"/><text x="1205.70" y="575.65" font-size="9.7" fill="#444" text-anchor="start" textLength="13.00" lengthAdjust="spacingAndGlyphs">RM</text><circle cx="1197.3" cy="590.5999999999999" r="1.9" fill="#45c9c6"/><text x="1205.70" y="593.15" font-size="9.7" fill="#444" text-anchor="start" textLength="46.00" lengthAdjust="spacingAndGlyphs">Packaging</text><circle cx="1197.3" cy="607.8" r="1.9" fill="#6ccf8b"/><text x="1205.70" y="610.35" font-size="9.7" fill="#444" text-anchor="start" textLength="11.50" lengthAdjust="spacingAndGlyphs">FG</text><path d="M1332.00,651.30 L1332.00,616.90 A34.4,34.4 0 1 1 1319.90,619.10 Z" fill="#5eaefa"/><path d="M1332.00,651.30 L1319.90,619.10 A34.4,34.4 0 0 1 1320.97,618.72 Z" fill="#45c9c6"/><path d="M1332.00,651.30 L1320.97,618.72 A34.4,34.4 0 0 1 1332.00,616.90 Z" fill="#6ccf8b"/><line x1="1332" y1="651.3" x2="1332.00" y2="616.90" stroke="#fff" stroke-width="1"/><line x1="1332" y1="651.3" x2="1319.90" y2="619.10" stroke="#fff" stroke-width="1"/><line x1="1332" y1="651.3" x2="1320.97" y2="618.72" stroke="#fff" stroke-width="1"/><polyline points="1312,601 1324.5,601 1326.8,617.7" fill="none" stroke="#9ddcb0" stroke-width="1"/><polyline points="1292.7,611 1306.4,611 1320,618.9" fill="none" stroke="#8fdcd8" stroke-width="1"/><line x1="1338.4" y1="685.5" x2="1347.9" y2="693.5" stroke="#9fcdf6" stroke-width="1"/><text x="1255.20" y="604.45" font-size="9.7" fill="#555" text-anchor="start" textLength="53.00" lengthAdjust="spacingAndGlyphs">FG:5.2%(48)</text><text x="1202.50" y="613.85" font-size="9.7" fill="#555" text-anchor="start" textLength="86.80" lengthAdjust="spacingAndGlyphs">Packaging:0.54%(5)</text></svg>
<div class="b" style="left:1500.00px;top:33.00px;width:12.00px;height:715.00px;background:#f1f1f1;"></div>
<svg width="12" height="12" viewBox="0 0 12 12" style="left:1500px;top:34px"><path d="M3 7.5 L6 4.5 L9 7.5 Z" fill="#555"/></svg>
<div class="b" style="left:1501.20px;top:112.30px;width:10.60px;height:635.70px;background:#c1c1c1;"></div>
<div class="b" style="left:1215px;top:692.4px;width:276px;height:60px;background:#f6f6f6;border:1px solid #d6d6d6;box-shadow:0 0 3px rgba(0,0,0,0.12)"></div>
<div class="b" style="left:1443px;top:709.5px;width:50px;height:45px;background:#e9e9e9;border-radius:7px"></div>
<svg width="40" height="40" viewBox="0 0 40 40" style="left:1450px;top:715px"><path d="M7 6.4 L31 20 L7 33.6 Z" fill="#f6f6f6"/></svg>
<div class="b" style="left:1490.20px;top:693.50px;width:21.80px;height:54.50px;background:#de385c;"></div>
<svg width="22" height="20" viewBox="0 0 22 20" style="left:1490.2px;top:715px"><path d="M5.6 5.4 L9.8 9.8 L5.6 14.2 M10.6 5.4 L14.8 9.8 L10.6 14.2" stroke="#fff" stroke-width="1.6" fill="none"/></svg>
<svg width="300" height="60" viewBox="1210 690 300 60" style="left:1210px;top:690px"><circle cx="1234" cy="708.2" r="2.6" fill="none" stroke="#777" stroke-width="1"/><path d="M1229.6 715.4 C1229.8 711.4 1238.2 711.4 1238.4 715.4" fill="none" stroke="#777" stroke-width="1"/></svg>
<span class="t" style="left:1243.70px;top:704.90px;font-size:11.0px;color:#666;transform:scaleX(0.8682);">15…43</span>
<svg width="70" height="16" viewBox="1274 702 70 16" style="left:1274px;top:702px" stroke="#777" stroke-width="0.9" fill="none"><path d="M1275.4 705 H1284.6 M1280 705 V714.6 M1280 709.6 H1283.8 M1277.2 709 V714.6 M1274.8 714.6 H1285"/><path d="M1286 707 H1295.6 M1289.6 704.2 L1286.2 712.4 M1288.2 709.4 V715 M1290.6 710.2 H1295 M1292.8 707.4 V714.6 M1290.2 714.6 H1295.6"/><path d="M1300 705 H1305.6 M1299.2 707.8 H1306.6 M1301.6 707.8 L1300.4 712 M1304.2 707.8 V711.6 H1306.4 M1296.8 705 L1298 706.4 M1296.6 708.4 H1298 V713 L1296.4 714.6 M1297.6 713.6 C1299.6 715 1303 714.8 1306.6 714.8"/><path d="M1307.4 706.2 L1311 705 M1309.2 705.6 V715 M1307.2 709 H1311 M1309.2 709.4 L1307.4 713 M1312.4 705 H1316.4 V708.6 H1312.4 Z M1312.2 710.6 H1316.8 M1314.4 708.6 V714.6 M1312.2 714.6 H1317"/><path d="M1318.4 707.2 H1327.6 M1323 704.2 V715 M1322.6 707.6 L1318.6 713.4 M1323.4 707.6 L1327.6 713.4 M1320.6 712.2 H1325.4"/><path d="M1328.8 707.2 H1332.6 M1330.8 704.4 V715 M1330.6 708.2 L1328.8 712.4 M1331 709 L1332.6 710.8 M1334 705.2 H1336.6 V714 C1336.6 714.8 1337.4 715 1338 714.2 M1334 705.2 V711 L1332.8 714.6"/></svg>
<svg width="240" height="24" viewBox="1220 723 240 24" style="left:1220px;top:723px" stroke="#5a5a5a" stroke-width="1.3" fill="none"><path d="M1230 727.4 H1246.4 Q1247.4 727.4 1247.4 728.4 V738.2 Q1247.4 739.2 1246.4 739.2 H1233.4 L1230.6 742.6 V739.2 H1230 Q1229 739.2 1229 738.2 V728.4 Q1229 727.4 1230 727.4 Z"/><circle cx="1233.6" cy="733.4" r="0.9" fill="#5a5a5a"/><circle cx="1238.2" cy="733.4" r="0.9" fill="#5a5a5a"/><circle cx="1242.8" cy="733.4" r="0.9" fill="#5a5a5a"/><rect x="1273.2" y="726.8" width="5.4" height="10.6" rx="2.7"/><path d="M1269.6 734.2 C1269.6 741.6 1282.2 741.6 1282.2 734.2 M1275.9 740.2 V743 M1272.6 743.2 H1279.2"/><rect x="1304.6" y="728.4" width="13.4" height="10.6" rx="1.2"/><path d="M1306.8 731.6 H1315.6 M1306.8 734.6 H1315.6 M1309.6 730 V737"/><rect x="1315.2" y="734.6" width="6.6" height="8.6" rx="3.3" fill="#f6f6f6"/><path d="M1318.5 734.8 V737.6"/><path d="M1311 728.2 V726.2"/><rect x="1343.6" y="727" width="15.8" height="15.6" rx="1.2"/><path d="M1348 731.6 H1355 M1351.5 731.6 V738.6" stroke-width="1.6"/><path d="M1380.4 727.2 H1386 L1388 729.4 H1397.6 V742.6 H1380.4 Z"/><path d="M1384.2 736.2 H1393 M1390.2 733.4 L1393 736.2 L1390.2 739"/><circle cx="1422.3" cy="735" r="8.2"/><path d="M1419.4 732.1 L1425.2 737.9 M1425.2 732.1 L1419.4 737.9"/></svg>
</body></html>
